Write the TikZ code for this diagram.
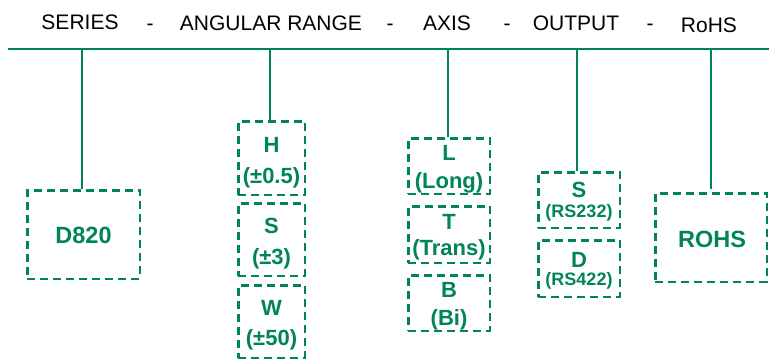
\documentclass[tikz,border=0pt]{standalone}
\usepackage{fontspec}
\setmainfont{Liberation Sans}
\definecolor{grn}{RGB}{0,133,84}
\begin{document}
\begin{tikzpicture}[x=1pt,y=-1pt,
  hdr/.style={font=\fontsize{21}{24}\selectfont, anchor=base, inner sep=0pt, text=black},
  box/.style={draw=grn, line width=2.5pt, dash pattern=on 8pt off 5pt, inner sep=0pt, rectangle},
  lbl/.style={text=grn, font=\bfseries\fontsize{22}{25}\selectfont, anchor=base, inner sep=0pt},
  big/.style={text=grn, font=\bfseries\fontsize{23.5}{27}\selectfont, anchor=base, inner sep=0pt},
  sub/.style={text=grn, font=\bfseries\fontsize{18}{20}\selectfont, anchor=base, inner sep=0pt},
  conn/.style={draw=grn, line width=2.5pt}]
\useasboundingbox (0,0) rectangle (769,360);

% header texts
\node[hdr] (hSeries) at (80,29.5) {SERIES};
\node[hdr] (hD1) at (150,30) {-};
\node[hdr] (hAng) at (271,30.5) {ANGULAR RANGE};
\node[hdr] (hD2) at (390,30) {-};
\node[hdr] (hAxis) at (447,30) {AXIS};
\node[hdr] (hD3) at (507,30) {-};
\node[hdr] (hOut) at (576,30) {OUTPUT};
\node[hdr] (hD4) at (650,30) {-};
\node[hdr] (hRohs) at (709,32.5) {RoHS};

% top line
\coordinate (L0) at (8,49);
\coordinate (L1) at (769,49);
\draw[conn] (L0) -- (L1);
\coordinate (t1) at (82,49);
\coordinate (t2) at (270,49);
\coordinate (t3) at (448,49);
\coordinate (t4) at (577,49);
\coordinate (t5) at (711,49);

% boxes
\node[box, minimum width=112.5pt, minimum height=88.5pt] (bD820) at (83.5,234.5) {};
\node[box, minimum width=66.5pt, minimum height=73.5pt] (bH) at (271.5,158) {};
\node[box, minimum width=66.5pt, minimum height=72.5pt] (bS) at (271.5,239.5) {};
\node[box, minimum width=66.5pt, minimum height=72.5pt] (bW) at (271.5,321.5) {};
\node[box, minimum width=81.5pt, minimum height=55.5pt] (bL) at (449,166) {};
\node[box, minimum width=81.5pt, minimum height=56.5pt] (bT) at (449,234.5) {};
\node[box, minimum width=81.5pt, minimum height=55.5pt] (bB) at (449,303) {};
\node[box, minimum width=81.5pt, minimum height=55.5pt] (bOS) at (579,200) {};
\node[box, minimum width=81.5pt, minimum height=56.5pt] (bOD) at (579,268.5) {};
\node[box, minimum width=111.5pt, minimum height=88.5pt] (bRohs) at (711,237.5) {};

% connectors
\draw[conn] (t1) -- (t1 |- bD820.north);
\draw[conn] (t2) -- (t2 |- bH.north);
\draw[conn] (t3) -- (t3 |- bL.north);
\draw[conn] (t4) -- (t4 |- bOS.north);
\draw[conn, shorten >=3pt] (t5) -- (t5 |- bRohs.north);

% labels
\node[big] (xD820) at (83.5,243.5) {D820};
\node[lbl] (xH) at (271.5,152) {H};
\node[lbl] (xH2) at (271.5,183) {(±0.5)};
\node[lbl] (xS) at (271.5,233) {S};
\node[lbl] (xS2) at (271.5,264) {(±3)};
\node[lbl] (xW) at (271.5,315) {W};
\node[lbl] (xW2) at (271.5,345) {(±50)};
\node[lbl] (xL) at (449,160) {L};
\node[lbl] (xL2) at (449,188) {(Long)};
\node[lbl] (xT) at (449,229) {T};
\node[lbl] (xT2) at (449,255) {(Trans)};
\node[lbl] (xB) at (449,297) {B};
\node[lbl] (xB2) at (449,325) {(Bi)};
\node[lbl] (xOS) at (579,197) {S};
\node[sub] (xOS2) at (579,217) {(RS232)};
\node[lbl] (xOD) at (579,267) {D};
\node[sub] (xOD2) at (579,285) {(RS422)};
\node[big] (xRohs) at (712,247.5) {ROHS};
\end{tikzpicture}
\end{document}
